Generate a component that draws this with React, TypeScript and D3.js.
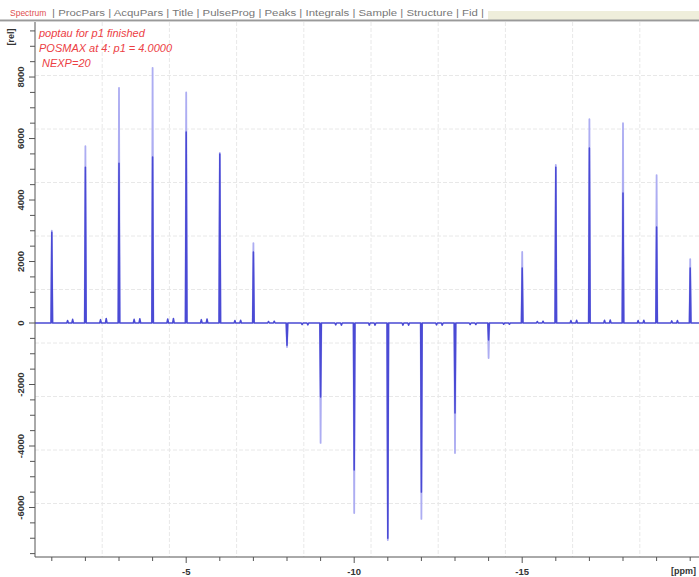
import React from 'react';
import * as d3 from 'd3';

const W = 699;
const H = 577;

// one spike per experiment, positions on the ppm axis
const peakPpm = [-1, -2, -3, -4, -5, -6, -7, -8, -9, -10, -11, -12, -13, -14, -15, -16, -17, -18, -19, -20];
// tip of each spike (the faint upper part)
const peakTip = [3000, 5750, 7650, 8300, 7500, 5530, 2600, -780, -3900, -6180, -7060, -6370, -4230, -1140, 2310, 5140, 6630, 6500, 4810, 2080];
// dense body of each spike
const peakBody = [2950, 5070, 5200, 5400, 6210, 5500, 2310, -720, -2410, -4780, -7000, -5500, -2930, -550, 1790, 5070, 5690, 4230, 3120, 1790];

// little side bumps on the baseline
const bumpPpm = [
  -1.47, -1.62, -2.45, -2.62, -3.45, -3.62, -4.45, -4.62, -5.45, -5.62, -6.45, -6.62, -7.45, -7.62,
  -8.45, -8.62, -9.45, -9.62, -10.45, -10.62, -11.45, -11.62, -12.45, -12.62, -13.45, -13.62, -14.45, -14.62,
  -15.45, -15.62, -16.45, -16.62, -17.45, -17.62, -18.45, -18.62, -19.45, -19.62,
];
const bumpVal = [
  80, 120, 110, 150, 120, 140, 130, 150, 110, 130, 80, 90, 50, 60,
  -50, -60, -60, -70, -70, -70, -70, -70, -60, -70, -50, -50, -40, -40,
  50, 60, 80, 90, 90, 100, 80, 90, 70, 80,
];

const yLabels = [-6000, -4000, -2000, 0, 2000, 4000, 6000, 8000];
const xLabels = [-5, -10, -15];
const infoLines = ['poptau for p1 finished', 'POSMAX at 4:  p1 = 4.0000', 'NEXP=20'];
const tabText = ' | ProcPars | AcquPars | Title | PulseProg | Peaks | Integrals | Sample | Structure | Fid |';

const left = 35;
const top = 22;
const bottom = 557;

const x = d3.scaleLinear().domain([-0.5, -20.5]).range([left, left + 672]);
const y = d3.scaleLinear().domain([-7610, 9790]).range([bottom, top]);

const font = 'Liberation Sans, Arial, sans-serif';
const dark = '#4a4ad4';
const light = '#adadf2';
const hw = 0.022;

export default function App() {
  // dense spectrum: baseline + spike bodies + bumps
  const pts: [number, number][] = [[-0.5, 0], [-20.5, 0]];
  peakPpm.forEach((p, i) => {
    pts.push([p + hw, 0], [p, peakBody[i]], [p - hw, 0]);
  });
  bumpPpm.forEach((p, i) => {
    pts.push([p + 0.025, 0], [p, bumpVal[i]], [p - 0.025, 0]);
  });
  pts.sort((a, b) => b[0] - a[0]);

  const line = d3.line<[number, number]>()
    .x(d => x(d[0]))
    .y(d => y(d[1]));

  const xGrid = d3.range(1, 10).map(i => -0.5 - i * 2);
  const yGrid = d3.range(1, 10).map(i => -7610 + (i * 17400) / 10);
  const yMinor = d3.range(-7500, 9800, 500);
  const xMinor = d3.range(-1, -21, -1);

  return (
    <svg width={W} height={H} style={{ position: 'absolute', left: 0, top: 0, background: '#fff' }}>
      {/* tab strip */}
      <rect x={0} y={0} width={W} height={20} fill="#fff" />
      <rect x={488} y={11} width={W - 488} height={9} fill="#efeedb" />
      <text x={10} y={16} fontFamily={font} fontSize={8.5} fill="#e05050">Spectrum</text>
      <text x={52} y={16} fontFamily={font} fontSize={8.5} fill="#777" textLength={432} lengthAdjust="spacingAndGlyphs">{tabText}</text>
      <rect x={0} y={19.5} width={W} height={1.5} fill="#9a9a9a" />
      <rect x={0} y={21} width={W} height={1} fill="#d4d4d4" />

      <clipPath id="plot">
        <rect x={left} y={top} width={W - left} height={bottom - top} />
      </clipPath>

      {/* grid */}
      <g stroke="#e8e8e8" strokeWidth={1} strokeDasharray="4,2">
        {xGrid.map(v => <line key={'gx' + v} x1={x(v)} x2={x(v)} y1={top} y2={bottom} />)}
        {yGrid.map(v => <line key={'gy' + v} x1={left} x2={W} y1={y(v)} y2={y(v)} />)}
      </g>

      {/* spectrum */}
      <g clipPath="url(#plot)" fill="none" strokeLinejoin="round">
        {peakPpm.map((p, i) => (
          <path key={'tip' + i} d={line([[p + hw, 0], [p, peakTip[i]], [p - hw, 0]]) || ''} stroke={light} strokeWidth={1.8} />
        ))}
        <path d={line(pts) || ''} stroke={dark} strokeWidth={1.5} />
      </g>

      {/* y axis */}
      <line x1={left} x2={left} y1={top} y2={bottom} stroke="#555" strokeWidth={1} />
      {yMinor.map(v => (
        <line key={'yt' + v} x1={left - (v % 2000 === 0 ? 6 : 5)} x2={left} y1={y(v)} y2={y(v)} stroke="#555" />
      ))}
      {yLabels.map(v => (
        <text key={'yl' + v} transform={`translate(21,${y(v)}) rotate(-90)`} textAnchor="middle" dy="0.35em"
          fontFamily={font} fontSize={9.5} fontWeight="bold" fill="#333">{v}</text>
      ))}
      <text transform="translate(11,37) rotate(-90)" textAnchor="middle" dy="0.35em" fontFamily={font} fontSize={9} fontWeight="bold" fill="#333">[rel]</text>

      {/* x axis */}
      <line x1={left} x2={W} y1={bottom} y2={bottom} stroke="#555" strokeWidth={1} />
      {xMinor.map(v => (
        <line key={'xt' + v} x1={x(v)} x2={x(v)} y1={bottom} y2={bottom + (v % 5 === 0 && v !== -20 ? 6 : 4)} stroke="#555" />
      ))}
      {xLabels.map(v => (
        <text key={'xl' + v} x={x(v)} y={575} textAnchor="middle" fontFamily={font} fontSize={9.5} fontWeight="bold" fill="#333">{v}</text>
      ))}
      <text x={696} y={574} textAnchor="end" fontFamily={font} fontSize={9} fontWeight="bold" fill="#333">[ppm]</text>

      {/* popt info */}
      {infoLines.map((t, i) => (
        <text key={'info' + i} x={i === 2 ? 42 : 39} y={37 + i * 15} fontFamily={font} fontSize={11} fontStyle="italic" fill="#ec4044">{t}</text>
      ))}
    </svg>
  );
}
